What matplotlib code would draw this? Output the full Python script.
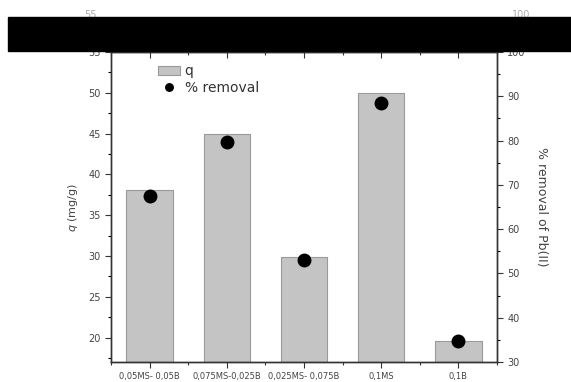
import matplotlib.pyplot as plt
import matplotlib.patches as mpatches
from matplotlib.ticker import MultipleLocator
import numpy as np

# sample compositions and measured values
samples = ["0,05MS- 0,05B", "0,075MS-0,025B", "0,025MS- 0,075B", "0,1MS", "0,1B"]
q_values = [38.1, 44.9, 29.9, 50.0, 19.6]
removal_values = [67.5, 79.6, 53.0, 88.4, 34.8]

label_color = "#444444"

fig = plt.figure(figsize=(5.71, 3.82), dpi=100)
ax = fig.add_axes([0.1944, 0.0524, 0.6760, 0.8115])

x = np.arange(1, len(samples) + 1)
bars = ax.bar(x, q_values, width=0.6, color="#c4c4c4", edgecolor="#9a9a9a",
              linewidth=0.8, label="q", zorder=2)
ax.set_xlim(0.5, 5.5)
ax.set_ylim(17, 55)
ax.set_xticks(x)
ax.set_xticklabels(samples, fontsize=6, color=label_color)
ax.xaxis.set_minor_locator(MultipleLocator(0.5))
ax.yaxis.set_major_locator(MultipleLocator(5))
ax.yaxis.set_minor_locator(MultipleLocator(2.5))
ax.tick_params(axis="y", labelsize=7, colors="#333333", labelcolor=label_color,
               direction="out", length=4, width=0.8)
ax.tick_params(axis="y", which="minor", direction="out", length=2.5, width=0.8)
ax.tick_params(axis="x", which="both", direction="out", length=4, width=0.8,
               colors="#333333", labelcolor=label_color)
ax.tick_params(axis="x", which="minor", length=2.5)
ax.set_ylabel("$q$ (mg/g)", fontsize=8, color=label_color, labelpad=6)
for s in ax.spines.values():
    s.set_linewidth(1.0)
    s.set_color("#333333")

# top axis ticks point inward
top = ax.secondary_xaxis("top")
top.set_xticks(x)
top.xaxis.set_minor_locator(MultipleLocator(0.5))
top.tick_params(which="both", direction="in", length=4, width=0.8,
                colors="#333333", labeltop=False)
top.tick_params(which="minor", length=2.5)

ax2 = ax.twinx()
pts, = ax2.plot(x, removal_values, "o", color="black", markersize=9,
                label="% removal", zorder=3)
ax2.set_ylim(30, 100)
ax2.yaxis.set_major_locator(MultipleLocator(10))
ax2.yaxis.set_minor_locator(MultipleLocator(5))
ax2.tick_params(axis="y", labelsize=7, colors="#333333", labelcolor=label_color,
                direction="out", length=4, width=0.8)
ax2.tick_params(axis="y", which="minor", direction="out", length=2.5, width=0.8)
ax2.set_ylabel("% removal of Pb(II)", fontsize=9, color=label_color,
               rotation=270, labelpad=16)
for s in ax2.spines.values():
    s.set_linewidth(1.0)
    s.set_color("#333333")

# legend without frame in upper left
leg = ax.legend([bars, pts], ["q", "% removal"], loc="upper left",
                bbox_to_anchor=(0.09, 1.0), frameon=False, fontsize=10,
                handlelength=1.6, handletextpad=0.3, labelspacing=0.2,
                markerscale=0.6)
for t in leg.get_texts():
    t.set_color("#333333")

# redaction band and the faint labels above it
fig.patches.append(mpatches.Rectangle((8 / 571, 1 - 51 / 382), 1, 34 / 382,
                                      transform=fig.transFigure, color="black",
                                      zorder=10))
fig.text(0.158, 1 - 15 / 382, "55", fontsize=7, color="#aaaaaa", ha="center",
         va="center")
fig.text(0.912, 1 - 15 / 382, "100", fontsize=7, color="#aaaaaa", ha="center",
         va="center")

fig.savefig("out.png", dpi=100)
